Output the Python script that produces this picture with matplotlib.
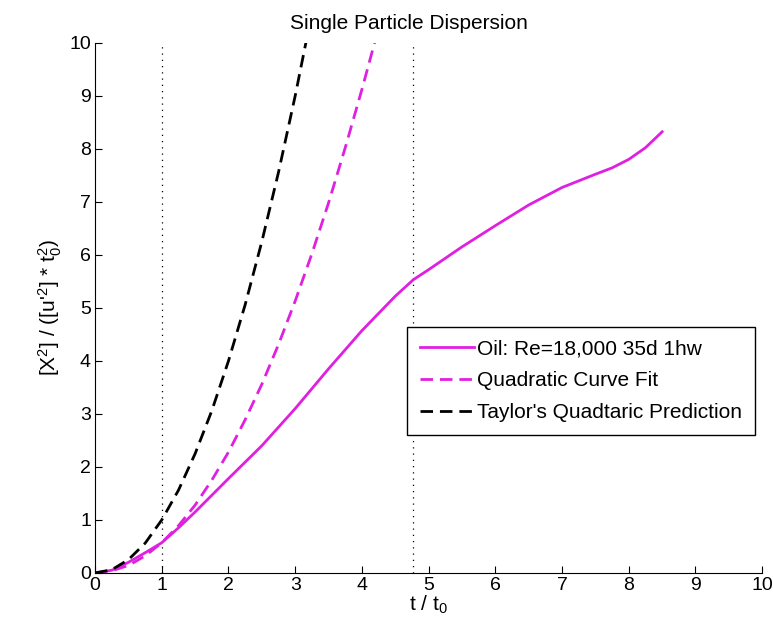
import numpy as np
import matplotlib
matplotlib.use("Agg")
import matplotlib.pyplot as plt

plt.rcParams['font.family'] = ['Liberation Sans', 'DejaVu Sans']
plt.rcParams['mathtext.default'] = 'regular'

t_oil = [0, 0.25, 0.5, 0.75, 1.0, 1.25, 1.5, 2.0, 2.5, 3.0, 3.5, 4.0, 4.5, 4.77,
         5.0, 5.5, 6.0, 6.5, 7.0, 7.5, 7.75, 8.0, 8.25, 8.5]
x2_oil = [0, 0.05, 0.2, 0.38, 0.57, 0.85, 1.15, 1.78, 2.4, 3.1, 3.85, 4.57, 5.22, 5.53,
          5.72, 6.15, 6.55, 6.94, 7.27, 7.52, 7.64, 7.8, 8.02, 8.32]

# quadratic curve fit
t_fit = [0, 0.25, 0.5, 0.75, 1.0, 1.25, 1.5, 1.75, 2.0, 2.25, 2.5, 2.75,
         3.0, 3.25, 3.5, 3.75, 4.0, 4.19]
x2_fit = [0, 0.04, 0.14, 0.32, 0.57, 0.89, 1.28, 1.75, 2.28, 2.89, 3.56, 4.31,
          5.13, 6.02, 6.98, 8.02, 9.12, 10.0]

# Taylor's prediction
t_tay = [0, 0.25, 0.5, 0.75, 1.0, 1.25, 1.5, 1.75, 2.0, 2.25, 2.5, 2.75, 3.0, 3.16]
x2_tay = [0, 0.06, 0.25, 0.56, 1.0, 1.56, 2.25, 3.06, 4.0, 5.06, 6.25, 7.56, 9.0, 10.0]

vlines = [1.0, 4.77]
labels = ["Oil: Re=18,000 35d 1hw", "Quadratic Curve Fit", "Taylor's Quadtaric Prediction"]

fig = plt.figure(figsize=(7.73, 6.38), dpi=100)
ax = fig.add_axes([0.123, 0.102, 0.863, 0.831])

for v in vlines:
    ax.plot([v, v], [0, 10], color='k', linestyle=(0, (1, 4)), linewidth=0.9)

mag = '#e020e0'
ax.plot(t_oil, x2_oil, color=mag, linewidth=2, label=labels[0])
ax.plot(t_fit, x2_fit, color=mag, linewidth=2, linestyle=(0, (4.5, 2.5)), label=labels[1])
ax.plot(t_tay, x2_tay, color='k', linewidth=2, linestyle=(0, (4.5, 2.5)), label=labels[2])

ax.set_xlim(0, 10)
ax.set_ylim(0, 10)
ax.set_xticks(range(0, 11))
ax.set_yticks(range(0, 11))
ax.spines['top'].set_visible(False)
ax.spines['right'].set_visible(False)
ax.tick_params(direction='in', length=5, labelsize=14, width=0.8, pad=3)

ax.set_title('Single Particle Dispersion', fontsize=15, pad=10)
ax.title.set_x(0.47)
ax.set_xlabel('t / t$_0$', fontsize=15, labelpad=0)
ax.set_ylabel("[X$^2$] / ([u'$^2$] * t$_0^2$)", fontsize=15, labelpad=4)

leg = ax.legend(loc='upper left', bbox_to_anchor=(0.468, 0.464), borderaxespad=0,
                fancybox=False, framealpha=1, edgecolor='k', fontsize=15,
                handlelength=2.6, handletextpad=0.15, borderpad=0.6, labelspacing=0.62)
leg.get_frame().set_linewidth(1)

fig.savefig('out.png', dpi=100)
